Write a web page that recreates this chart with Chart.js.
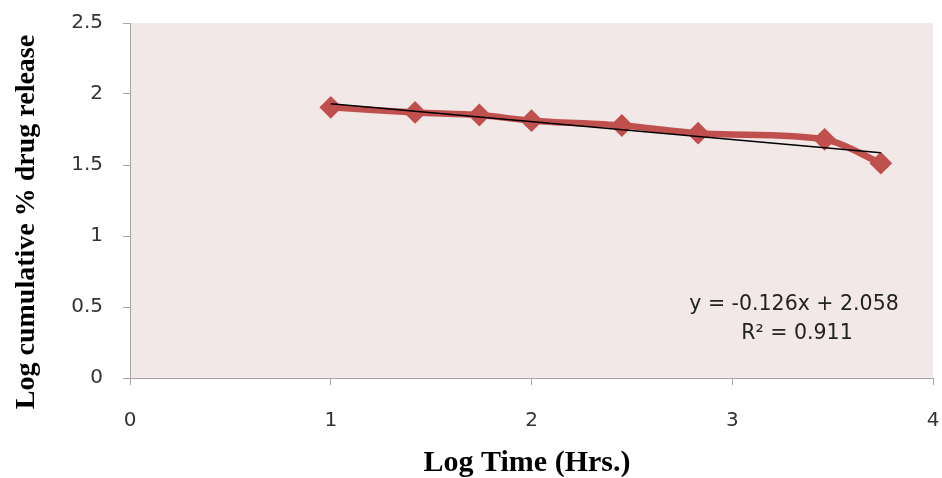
<!DOCTYPE html>
<html><head><meta charset="utf-8">
<script src="https://cdn.jsdelivr.net/npm/chart.js@4"></script>
<style>html,body{margin:0;padding:0;background:#fff}#wrap{width:942px;height:478px}</style>
</head><body><div id="wrap"><canvas id="c" width="942" height="478"></canvas></div>
<script>
const logTime = [1.0, 1.42, 1.74, 2.0, 2.45, 2.83, 3.46, 3.74];
const logRelease = [1.906, 1.870, 1.852, 1.812, 1.778, 1.724, 1.681, 1.513];
const trendX = [1.0, 3.74];
const trendY = [1.932, 1.587];
const xTicks = [0, 1, 2, 3, 4];
const yTicks = [0, 0.5, 1, 1.5, 2, 2.5];
const equationLines = ['y = -0.126x + 2.058', 'R\u00B2 = 0.911'];
const xTitle = 'Log Time (Hrs.)';
const yTitle = 'Log cumulative % drug release';

const axisGray = '#a6a6a6';
const tickFont = {family: 'DejaVu Sans', size: 20};

const plotBg = {
  id: 'plotBg',
  beforeDraw(chart) {
    const {ctx, chartArea: a} = chart;
    ctx.save();
    ctx.fillStyle = '#f2e8e8';
    ctx.fillRect(a.left, a.top, a.right - a.left, a.bottom - a.top);
    ctx.restore();
  }
};
const texts = {
  id: 'texts',
  afterDraw(chart) {
    const ctx = chart.ctx;
    ctx.save();
    ctx.fillStyle = '#000';
    ctx.textAlign = 'center';
    ctx.textBaseline = 'middle';
    ctx.font = 'bold 30px "Liberation Serif"';
    ctx.fillText(xTitle, 527, 463);
    ctx.save();
    ctx.translate(27, 222);
    ctx.rotate(-Math.PI / 2);
    ctx.font = 'bold 28px "Liberation Serif"';
    ctx.fillText(yTitle, 0, 0);
    ctx.restore();
    ctx.fillStyle = '#222';
    ctx.font = '20.5px "DejaVu Sans"';
    ctx.fillText(equationLines[0], 794, 305);
    ctx.fillText(equationLines[1], 797, 334);
    ctx.restore();
  }
};

new Chart(document.getElementById('c'), {
  type: 'line',
  data: {
    datasets: [
      {
        data: trendX.map((x, i) => ({x, y: trendY[i]})),
        borderColor: '#000',
        borderWidth: 1.5,
        pointRadius: 0,
        tension: 0,
        order: 0
      },
      {
        data: logTime.map((x, i) => ({x, y: logRelease[i]})),
        borderColor: '#c0504d',
        borderWidth: 6.5,
        tension: 0.3,
        pointStyle: 'rectRot',
        pointRadius: 10,
        pointBackgroundColor: '#c0504d',
        pointBorderColor: '#c0504d',
        pointBorderWidth: 2,
        order: 1
      }
    ]
  },
  options: {
    responsive: false,
    animation: false,
    devicePixelRatio: 1,
    layout: {autoPadding: false, padding: {top: 23, right: 9, left: 0, bottom: 0}},
    plugins: {legend: {display: false}, tooltip: {enabled: false}},
    scales: {
      x: {
        type: 'linear', min: 0, max: 4,
        afterBuildTicks: s => { s.ticks = xTicks.map(v => ({value: v})); },
        afterFit: s => { s.height = 100; s.paddingLeft = 0; s.paddingRight = 0; },
        ticks: {font: tickFont, color: '#333', padding: 24, maxRotation: 0, callback: v => String(v)},
        grid: {drawOnChartArea: false, tickLength: 7, color: axisGray, tickColor: axisGray},
        border: {color: axisGray, width: 1}
      },
      y: {
        type: 'linear', min: 0, max: 2.5,
        afterBuildTicks: s => { s.ticks = yTicks.map(v => ({value: v})); },
        afterFit: s => { s.width = 130; s.paddingTop = 0; s.paddingBottom = 0; },
        ticks: {font: tickFont, color: '#333', padding: 20, callback: v => String(v)},
        grid: {drawOnChartArea: false, tickLength: 7, color: axisGray, tickColor: axisGray},
        border: {color: axisGray, width: 1}
      }
    }
  },
  plugins: [plotBg, texts]
});
</script></body></html>
